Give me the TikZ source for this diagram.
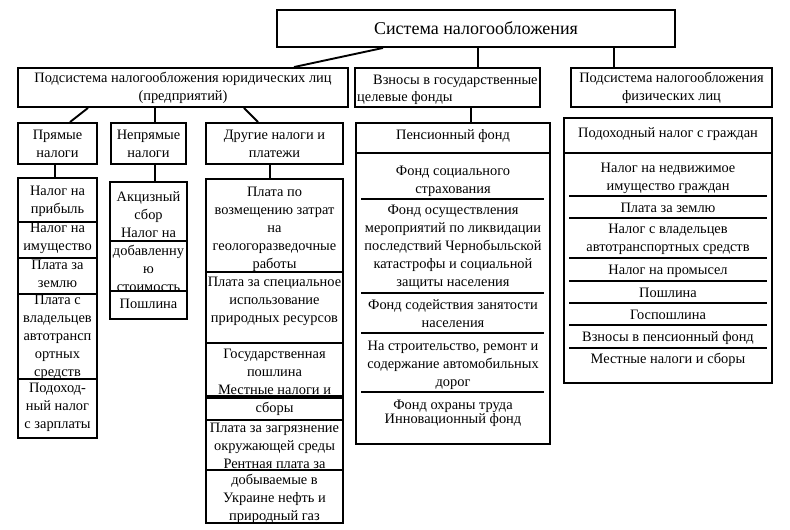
\documentclass[tikz,border=0pt]{standalone}
\usepackage{fontspec}
\setmainfont{Liberation Serif}
\newcommand\rbox[6][]{%
  \node[box,#1,minimum width={(#4-#2)*1pt},minimum height={(#6-#3)*1pt}] (#5) at ({(#2+#4)/2},{(#3+#6)/2}) {};}
\begin{document}
\begin{tikzpicture}[x=1pt,y=-1pt,
  box/.style={draw,line width=1.9pt,inner sep=0pt},
  txt/.style={inner sep=0pt,align=center,font=\fontsize{14.4}{18}\selectfont},
  conn/.style={line width=1.9pt},
  div/.style={line width=1.9pt}]
\useasboundingbox[fill=white] (0,0) rectangle (790,530);

% top
\node[box,minimum width=398pt,minimum height=37pt,font=\fontsize{18}{22}\selectfont] (top) at (476,28.5) {Система налогообложения};

% level 2
\node[box,txt,minimum width=330pt,minimum height=39pt] (b1) at (183,87.5) {Подсистема налогообложения юридических лиц\\(предприятий)};
\node[box,minimum width=185pt,minimum height=39pt] (b2) at (447.5,87.5) {};
\node[txt,anchor=west] (b2a) at (373,81) {Взносы в государственные};
\node[txt,anchor=west] (b2b) at (357,98) {целевые фонды};
\node[box,txt,minimum width=201pt,minimum height=39pt] (b3) at (671.5,87.5) {Подсистема налогообложения\\физических лиц};

\draw[conn] (383,0 |- top.south) -- (294,0 |- b1.north);
\draw[conn] (478,0 |- top.south) -- (478,0 |- b2.north);
\draw[conn] (614,0 |- top.south) -- (614,0 |- b3.north);

% level 3
\node[box,txt,minimum width=79pt,minimum height=41pt] (P) at (57.5,143.5) {Прямые\\налоги};
\node[box,txt,minimum width=75pt,minimum height=41pt] (N) at (148.5,143.5) {Непрямые\\налоги};
\node[box,txt,minimum width=137pt,minimum height=41pt] (D) at (274.5,143.5) {Другие налоги и\\платежи};

\draw[conn] (88,0 |- b1.south) -- (70,0 |- P.north);
\draw[conn] (155,0 |- b1.south) -- (155,0 |- N.north);
\draw[conn] (244,0 |- b1.south) -- (258,0 |- D.north);

% stacks
\rbox{18}{178}{97}{PS}{438}
\rbox{110}{182}{187}{NS}{319}
\rbox{206}{179}{343}{DS}{523}

\draw[conn] (55,0 |- P.south) -- (55,0 |- PS.north);
\draw[conn] (155,0 |- N.south) -- (155,0 |- NS.north);
\draw[conn] (270,0 |- D.south) -- (270,0 |- DS.north);

% PS
\foreach \yy in {222,258,294,379} \draw[div] (PS.west |- 0,\yy) -- (PS.east |- 0,\yy);
\node[txt] (ps1) at (57.5,201) {Налог на\\прибыль};
\node[txt] (ps2) at (57.5,238) {Налог на\\имущество};
\node[txt] (ps3) at (57.5,274) {Плата за\\землю};
\node[txt] (ps4) at (57.5,337) {Плата с\\владельцев\\автотрансп\\ортных\\средств};
\node[txt] (ps5) at (57.5,407) {Подоход-\\ный налог\\с зарплаты};

% NS
\foreach \yy in {241,291} \draw[div] (NS.west |- 0,\yy) -- (NS.east |- 0,\yy);
\node[txt] (ns1) at (148.5,215) {Акцизный\\сбор\\Налог на};
\node[txt] (ns2) at (148.5,268) {добавленну\\ю\\стоимость};
\node[txt] (ns3) at (148.5,304) {Пошлина};

% DS
\foreach \yy in {272,343,420,470} \draw[div] (DS.west |- 0,\yy) -- (DS.east |- 0,\yy);
\draw[line width=3.2pt] (DS.west |- 0,397) -- (DS.east |- 0,397);
\node[txt] (ds1) at (274.5,229) {Плата по\\возмещению затрат\\на\\геологоразведочные\\работы};
\node[txt] (ds2) at (274.5,301) {Плата за специальное\\использование\\природных ресурсов};
\node[txt] (ds3) at (274.5,372) {Государственная\\пошлина\\Местные налоги и};
\node[txt] (ds4) at (274.5,409) {сборы};
\node[txt] (ds5) at (274.5,446) {Плата за загрязнение\\окружающей среды\\Рентная плата за};
\node[txt] (ds6) at (274.5,499) {добываемые в\\Украине нефть и\\природный газ};

% pension column
\rbox{356}{123}{550}{PF}{444}
\draw[conn] (471,0 |- b2.south) -- (471,0 |- PF.north);
\draw[div] (PF.west |- 0,153) -- (PF.east |- 0,153);
\foreach \yy in {199,293,333,392} \draw[div] (361,\yy) -- (544,\yy);
\node[txt] (pf0) at (453,136) {Пенсионный фонд};
\node[txt] (pf1) at (453,181) {Фонд социального\\страхования};
\node[txt] (pf2) at (453,247) {Фонд осуществления\\мероприятий по ликвидации\\последствий Чернобыльской\\катастрофы и социальной\\защиты населения};
\node[txt] (pf3) at (453,314) {Фонд содействия занятости\\населения};
\node[txt] (pf4) at (453,365) {На строительство, ремонт и\\содержание автомобильных\\дорог};
\node[txt] (pf5) at (453,413) {Фонд охраны труда\\[-4pt]Инновационный фонд};

% physical persons column
\rbox{564}{118}{772}{RF}{383}
\draw[div] (RF.west |- 0,153) -- (RF.east |- 0,153);
\foreach \yy in {196,218,258,281,303,325,348} \draw[div] (569,\yy) -- (767,\yy);
\node[txt] (rf0) at (668,134) {Подоходный налог с граждан};
\node[txt] (rf1) at (668,178) {Налог на недвижимое\\имущество граждан};
\node[txt] (rf2) at (668,208) {Плата за землю};
\node[txt] (rf3) at (668,239) {Налог с владельцев\\автотранспортных средств};
\node[txt] (rf4) at (668,271) {Налог на промысел};
\node[txt] (rf5) at (668,293) {Пошлина};
\node[txt] (rf6) at (668,315) {Госпошлина};
\node[txt] (rf7) at (668,338) {Взносы в пенсионный фонд};
\node[txt] (rf8) at (668,360) {Местные налоги и сборы};
\end{tikzpicture}
\end{document}
